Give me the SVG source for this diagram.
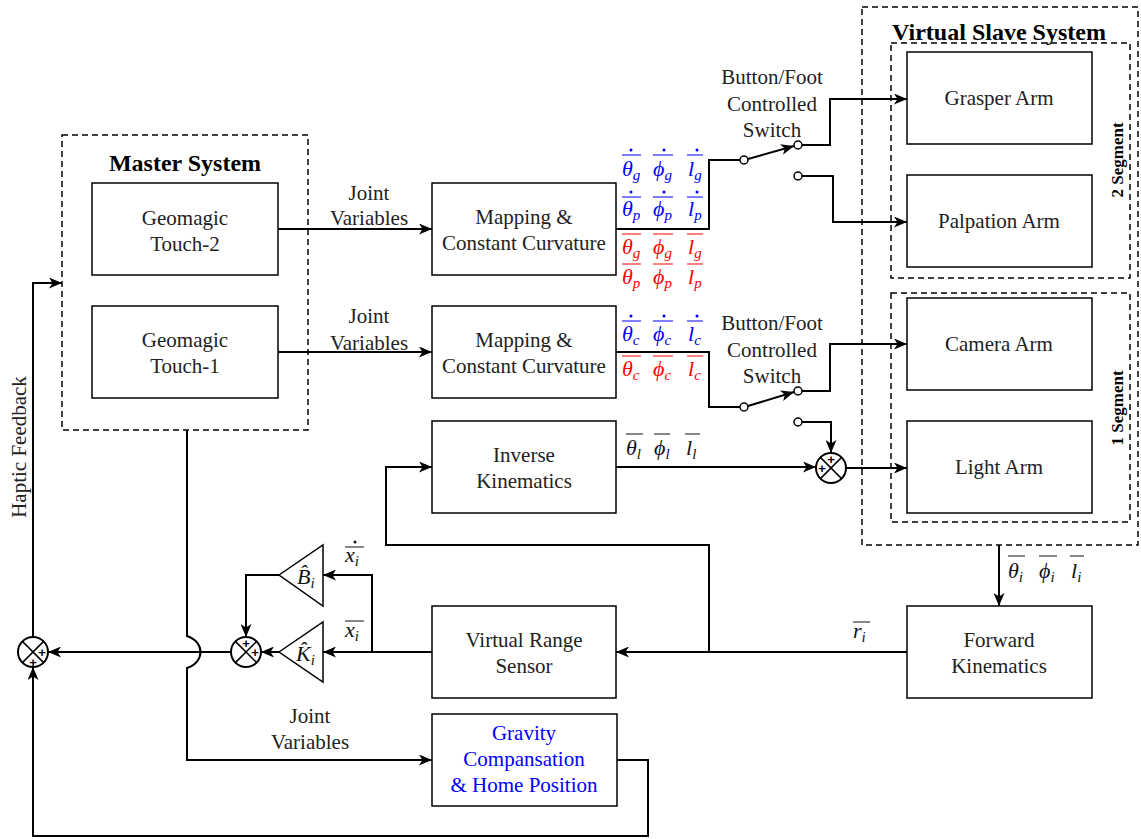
<svg xmlns="http://www.w3.org/2000/svg" width="1141" height="839" viewBox="0 0 1141 839">
  <style>
    .box { fill: #ffffff; stroke: #000000; stroke-width: 1.5; }
    .dash { fill: none; stroke: #000000; stroke-width: 1.5; stroke-dasharray: 6 4; }
    .wire { fill: none; stroke: #000000; stroke-width: 2; }
    .arr { marker-end: url(#arrow); }
    .pin { fill: #ffffff; stroke: #000000; stroke-width: 1.5; }
    .sum { fill: #ffffff; stroke: #000000; stroke-width: 2; }
    .tri { fill: #ffffff; stroke: #000000; stroke-width: 1.5; }
    .t { font-family: "Liberation Serif", "Times New Roman", serif; font-size: 21px; fill: #222222; text-anchor: middle; }
    .title { font-family: "Liberation Serif", "Times New Roman", serif; font-size: 24px; font-weight: bold; fill: #000000; text-anchor: middle; }
    .seg { font-family: "Liberation Serif", "Times New Roman", serif; font-size: 17px; font-weight: bold; fill: #000000; text-anchor: middle; }
    .m { font-family: "Liberation Serif", "DejaVu Serif", serif; font-size: 22px; font-style: italic; }
    .sub { font-size: 15px; }
    .pm { font-family: "Liberation Sans", Arial, sans-serif; font-size: 13px; font-weight: bold; text-anchor: middle; fill: #000000; }
    .blue { fill: #0000ff; }
    .red { fill: #ff0000; }
    .blk { fill: #111111; }
    .olb { stroke: #0000ff; stroke-width: 1; }
    .olr { stroke: #ff0000; stroke-width: 1; }
    .olk { stroke: #111111; stroke-width: 1; }
  </style>
  <defs>
    <marker id="arrow" markerUnits="userSpaceOnUse" markerWidth="13" markerHeight="11" viewBox="0 0 13 11" refX="13" refY="5.5" orient="auto">
      <path d="M0,0 L13,5.5 L0,11 L3.5,5.5 z" fill="#000000"/>
    </marker>
  </defs>

  <rect width="1141" height="839" fill="#ffffff"/>

  <!-- Master system -->
  <g id="master-system">
    <rect class="dash" x="62" y="135" width="246" height="295"/>
    <text class="title" x="185" y="171">Master System</text>
  </g>
  <g id="touch-2">
    <rect class="box" x="92" y="183" width="186" height="92"/>
    <text class="t" x="185" y="225">Geomagic</text>
    <text class="t" x="185" y="251">Touch-2</text>
  </g>
  <g id="touch-1">
    <rect class="box" x="92" y="306" width="186" height="92"/>
    <text class="t" x="185" y="347">Geomagic</text>
    <text class="t" x="185" y="373">Touch-1</text>
  </g>

  <!-- Mapping and kinematics blocks -->
  <g id="mapping-1">
    <rect class="box" x="432" y="183" width="184" height="92"/>
    <text class="t" x="524" y="224">Mapping &amp;</text>
    <text class="t" x="524" y="250">Constant Curvature</text>
  </g>
  <g id="mapping-2">
    <rect class="box" x="432" y="306" width="184" height="92"/>
    <text class="t" x="524" y="347">Mapping &amp;</text>
    <text class="t" x="524" y="373">Constant Curvature</text>
  </g>
  <g id="inverse-kinematics">
    <rect class="box" x="432" y="421" width="184" height="92"/>
    <text class="t" x="524" y="462">Inverse</text>
    <text class="t" x="524" y="488">Kinematics</text>
  </g>
  <g id="virtual-range-sensor">
    <rect class="box" x="432" y="606" width="184" height="92"/>
    <text class="t" x="524" y="647">Virtual Range</text>
    <text class="t" x="524" y="673">Sensor</text>
  </g>
  <g id="gravity-compensation">
    <rect class="box" x="432" y="714" width="185" height="92"/>
    <text class="t blue" x="524" y="740">Gravity</text>
    <text class="t blue" x="524" y="766">Compansation</text>
    <text class="t blue" x="524" y="792">&amp; Home Position</text>
  </g>
  <g id="forward-kinematics">
    <rect class="box" x="907" y="606" width="185" height="92"/>
    <text class="t" x="999" y="647">Forward</text>
    <text class="t" x="999" y="673">Kinematics</text>
  </g>

  <!-- Virtual slave system -->
  <g id="virtual-slave-system">
    <rect class="dash" x="862" y="7" width="276" height="538"/>
    <text class="title" x="999" y="40">Virtual Slave System</text>
  </g>
  <g id="two-segment">
    <rect class="dash" x="891" y="43" width="239" height="235"/>
    <text class="seg" transform="translate(1123,160) rotate(-90)">2 Segment</text>
  </g>
  <g id="one-segment">
    <rect class="dash" x="891" y="293" width="239" height="229"/>
    <text class="seg" transform="translate(1123,408) rotate(-90)">1 Segment</text>
  </g>
  <g id="grasper-arm">
    <rect class="box" x="907" y="52" width="185" height="92"/>
    <text class="t" x="999" y="105">Grasper Arm</text>
  </g>
  <g id="palpation-arm">
    <rect class="box" x="907" y="175" width="185" height="92"/>
    <text class="t" x="999" y="228">Palpation Arm</text>
  </g>
  <g id="camera-arm">
    <rect class="box" x="907" y="298" width="185" height="92"/>
    <text class="t" x="999" y="351">Camera Arm</text>
  </g>
  <g id="light-arm">
    <rect class="box" x="907" y="421" width="185" height="92"/>
    <text class="t" x="999" y="474">Light Arm</text>
  </g>

  <!-- Gains -->
  <g id="gain-b">
    <polygon class="tri" points="279,575 323,545 323,606"/>
    <text class="m blk" x="297" y="584">B̂<tspan class="sub" dy="4">i</tspan></text>
  </g>
  <g id="gain-k">
    <polygon class="tri" points="279,652 323,622 323,682"/>
    <text class="m blk" x="296" y="661">K̂<tspan class="sub" dy="4">i</tspan></text>
  </g>

  <!-- Summing junctions -->
  <g id="sum-feedback">
    <circle class="sum" cx="33" cy="652" r="15"/>
    <path class="wire" style="stroke-width:1.5" d="M22.4,641.4 L43.6,662.6 M43.6,641.4 L22.4,662.6"/>
    <text class="pm" x="33" y="667">+</text>
    <text class="pm" x="42" y="657">+</text>
  </g>
  <g id="sum-gains">
    <circle class="sum" cx="246" cy="652" r="15"/>
    <path class="wire" style="stroke-width:1.5" d="M235.4,641.4 L256.6,662.6 M256.6,641.4 L235.4,662.6"/>
    <text class="pm" x="246" y="648">+</text>
    <text class="pm" x="255" y="657">+</text>
  </g>
  <g id="sum-light">
    <circle class="sum" cx="831" cy="468" r="15"/>
    <path class="wire" style="stroke-width:1.5" d="M820.4,457.4 L841.6,478.6 M841.6,457.4 L820.4,478.6"/>
    <text class="pm" x="831" y="464">+</text>
    <text class="pm" x="822" y="473">+</text>
  </g>

  <!-- Switches -->
  <g id="switch-1">
    <text class="t" x="772" y="84">Button/Foot</text>
    <text class="t" x="772" y="111">Controlled</text>
    <text class="t" x="772" y="137">Switch</text>
    <line class="wire arr" x1="748" y1="159" x2="794" y2="146"/>
    <circle class="pin" cx="744" cy="160" r="4"/>
    <circle class="pin" cx="798" cy="145" r="4"/>
    <circle class="pin" cx="798" cy="176" r="4"/>
  </g>
  <g id="switch-2">
    <text class="t" x="772" y="330">Button/Foot</text>
    <text class="t" x="772" y="357">Controlled</text>
    <text class="t" x="772" y="383">Switch</text>
    <line class="wire arr" x1="748" y1="406" x2="794" y2="392"/>
    <circle class="pin" cx="744" cy="407" r="4"/>
    <circle class="pin" cx="798" cy="391" r="4"/>
    <circle class="pin" cx="798" cy="422" r="4"/>
  </g>

  <!-- Connectors -->
  <g id="connectors">
    <path class="wire arr" d="M278,229 H432"/>
    <path class="wire arr" d="M278,352 H432"/>
    <path class="wire" d="M616,229 H709 V160 H740"/>
    <path class="wire arr" d="M802,145 H830 V99 H907"/>
    <path class="wire arr" d="M802,176 H833 V222 H907"/>
    <path class="wire" d="M616,352 H709 V407 H740"/>
    <path class="wire arr" d="M802,391 H830 V344 H907"/>
    <path class="wire arr" d="M802,422 H831 V453"/>
    <path class="wire arr" d="M846,468 H907"/>
    <path class="wire arr" d="M616,467 H816"/>
    <path class="wire arr" d="M999,545 V606"/>
    <path class="wire arr" d="M907,652 H616"/>
    <path class="wire arr" d="M709,652 V545 H386 V467 H432"/>
    <path class="wire arr" d="M432,652 H323"/>
    <path class="wire arr" d="M372,652 V575 H323"/>
    <path class="wire arr" d="M279,575 H246 V637"/>
    <path class="wire arr" d="M279,652 H261"/>
    <path class="wire arr" d="M231,652 H48"/>
    <path class="wire arr" d="M33,637 V283 H62"/>
    <path class="wire arr" d="M187,430 V636 C205,642 205,662 187,668 V760 H432"/>
    <path class="wire arr" d="M617,760 H648 V836 H33 V667"/>
  </g>

  <!-- Connector labels -->
  <g id="labels">
    <text class="t" x="369" y="200">Joint</text>
    <text class="t" x="369" y="225">Variables</text>
    <text class="t" x="369" y="323">Joint</text>
    <text class="t" x="369" y="350">Variables</text>
    <text class="t" x="310" y="723">Joint</text>
    <text class="t" x="310" y="749">Variables</text>
    <text class="t" transform="translate(26,447) rotate(-90)">Haptic Feedback</text>

    <!-- segment rates and positions -->
    <g class="m blue">
      <text x="622" y="176">θ<tspan class="sub" dy="4">g</tspan></text>
      <text x="653" y="176">ϕ<tspan class="sub" dy="4">g</tspan></text>
      <text x="688" y="176">l<tspan class="sub" dy="4">g</tspan></text>
      <text x="622" y="216">θ<tspan class="sub" dy="4">p</tspan></text>
      <text x="653" y="216">ϕ<tspan class="sub" dy="4">p</tspan></text>
      <text x="688" y="216">l<tspan class="sub" dy="4">p</tspan></text>
      <text x="622" y="341">θ<tspan class="sub" dy="4">c</tspan></text>
      <text x="653" y="341">ϕ<tspan class="sub" dy="4">c</tspan></text>
      <text x="688" y="341">l<tspan class="sub" dy="4">c</tspan></text>
    </g>
    <g class="olb">
      <path d="M622,155 H641 M653,155 H673 M687,155 H703 M622,197 H641 M653,197 H673 M687,197 H703 M622,321 H641 M653,321 H673 M687,321 H703"/>
    </g>
    <g class="blue">
      <circle cx="631" cy="150" r="1.5"/><circle cx="664" cy="150" r="1.5"/><circle cx="697" cy="150" r="1.5"/>
      <circle cx="631" cy="192" r="1.5"/><circle cx="664" cy="192" r="1.5"/><circle cx="697" cy="192" r="1.5"/>
      <circle cx="631" cy="316" r="1.5"/><circle cx="664" cy="316" r="1.5"/><circle cx="697" cy="316" r="1.5"/>
    </g>
    <g class="m red">
      <text x="622" y="254">θ<tspan class="sub" dy="4">g</tspan></text>
      <text x="653" y="254">ϕ<tspan class="sub" dy="4">g</tspan></text>
      <text x="688" y="254">l<tspan class="sub" dy="4">g</tspan></text>
      <text x="622" y="284">θ<tspan class="sub" dy="4">p</tspan></text>
      <text x="653" y="284">ϕ<tspan class="sub" dy="4">p</tspan></text>
      <text x="688" y="284">l<tspan class="sub" dy="4">p</tspan></text>
      <text x="622" y="376">θ<tspan class="sub" dy="4">c</tspan></text>
      <text x="653" y="376">ϕ<tspan class="sub" dy="4">c</tspan></text>
      <text x="688" y="376">l<tspan class="sub" dy="4">c</tspan></text>
    </g>
    <g class="olr">
      <path d="M622,234 H641 M653,234 H673 M687,234 H703 M622,264 H641 M653,264 H673 M687,264 H703 M622,356 H641 M653,356 H673 M687,356 H703"/>
    </g>

    <!-- light arm and slave feedback variables -->
    <g class="m blk">
      <text x="626" y="455">θ<tspan class="sub" dy="4">l</tspan></text>
      <text x="654" y="455">ϕ<tspan class="sub" dy="4">l</tspan></text>
      <text x="686" y="455">l<tspan class="sub" dy="4">l</tspan></text>
      <text x="1008" y="578">θ<tspan class="sub" dy="4">i</tspan></text>
      <text x="1039" y="578">ϕ<tspan class="sub" dy="4">i</tspan></text>
      <text x="1071" y="578">l<tspan class="sub" dy="4">i</tspan></text>
      <text x="853" y="638">r<tspan class="sub" dy="4">i</tspan></text>
      <text x="345" y="562">x<tspan class="sub" dy="4">i</tspan></text>
      <text x="345" y="637">x<tspan class="sub" dy="4">i</tspan></text>
    </g>
    <g class="olk">
      <path d="M626,434 H643 M654,434 H670 M685,434 H700 M1008,556 H1025 M1039,556 H1057 M1070,556 H1084 M853,622 H870 M345,547 H364 M345,621 H364"/>
    </g>
    <circle cx="355" cy="542" r="1.5" fill="#111111"/>
  </g>
</svg>
